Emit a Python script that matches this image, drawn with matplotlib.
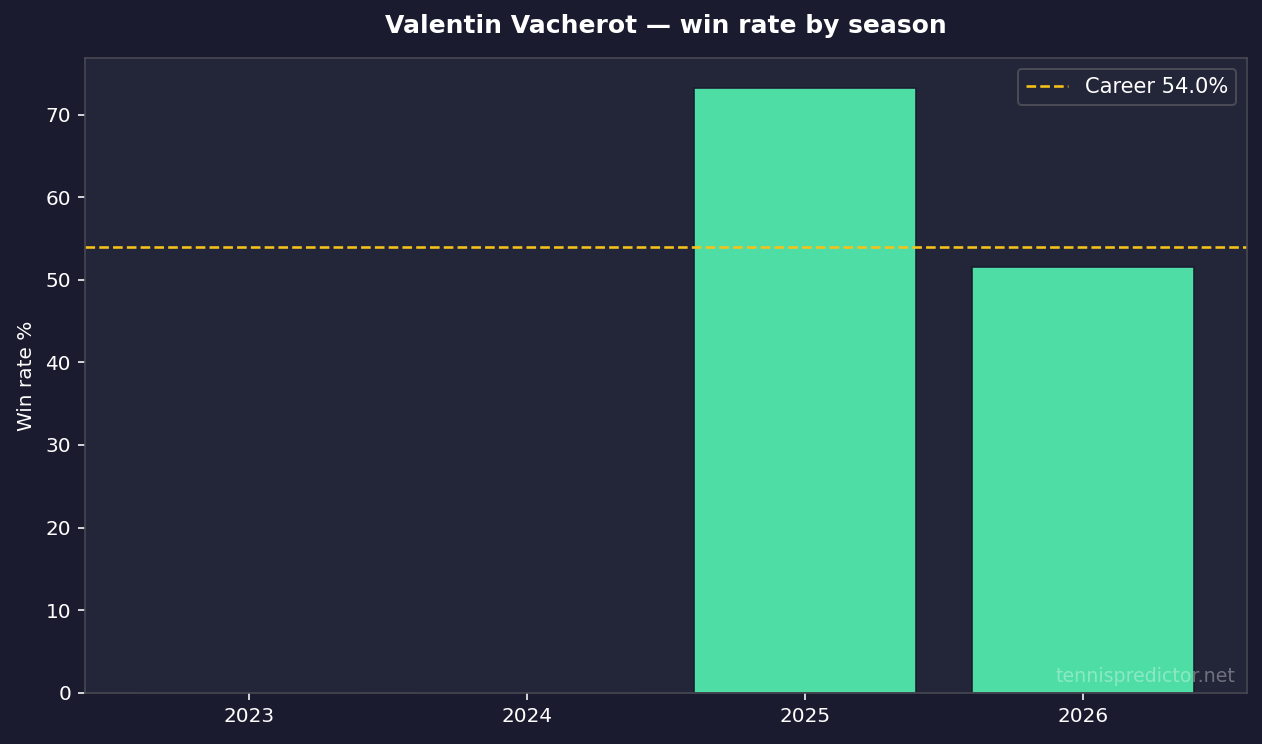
import matplotlib
matplotlib.use("Agg")
import matplotlib.pyplot as plt

# Data
seasons = ["2023", "2024", "2025", "2026"]
win_rate = [0.0, 0.0, 73.2, 51.5]
career_rate = 54.0
player = "Valentin Vacherot"

BG = "#1a1b2e"
PANEL = "#232539"
BAR = "#4ddda5"
LINE = "#f5c21b"
SPINE = "#4a4a55"

DPI = 144
fig, ax = plt.subplots(figsize=(1262 / DPI, 744 / DPI), dpi=DPI)
fig.patch.set_facecolor(BG)
ax.set_facecolor(PANEL)

ax.bar(seasons, win_rate, width=0.8, color=BAR, edgecolor="#1a1b2e", linewidth=0.8)
ax.axhline(career_rate, color=LINE, linestyle="--", linewidth=1.3,
           label=f"Career {career_rate:.1f}%")

ax.set_title(f"{player} \u2014 win rate by season", color="white",
             fontsize=12.5, fontweight="bold", pad=12.5)
ax.set_ylabel("Win rate %", color="white", fontsize=10, labelpad=4.5)
ax.tick_params(colors="white", labelsize=10)
for s in ax.spines.values():
    s.set_color(SPINE)

leg = ax.legend(loc="upper right", fontsize=10.5, facecolor=PANEL,
                edgecolor=SPINE, labelcolor="white", framealpha=1)

ax.text(0.99, 0.01, "tennispredictor.net", transform=ax.transAxes,
        ha="right", va="bottom", color="white", alpha=0.35, fontsize=9.5)

fig.subplots_adjust(left=0.0674, right=0.988, top=0.922, bottom=0.069)
fig.savefig("out.png", dpi=DPI, facecolor=BG)
